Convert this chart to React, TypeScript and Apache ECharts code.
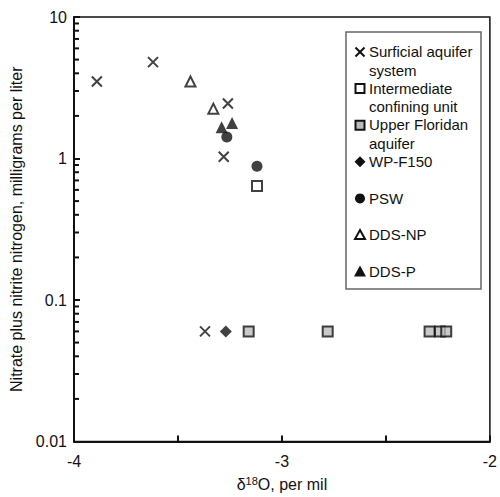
import React, { useEffect, useRef } from "react";
import * as echarts from "echarts";

const surficialX = [-3.89, -3.62, -3.26, -3.28, -3.37];
const surficialY = [3.5, 4.8, 2.45, 1.03, 0.06];
const intermediateX = [-3.12];
const intermediateY = [0.64];
const upperFloridanX = [-3.16, -2.78, -2.29, -2.24, -2.21];
const upperFloridanY = [0.06, 0.06, 0.06, 0.06, 0.06];
const wpX = [-3.27];
const wpY = [0.06];
const pswX = [-3.265, -3.12];
const pswY = [1.42, 0.88];
const ddsNpX = [-3.44, -3.33];
const ddsNpY = [3.5, 2.25];
const ddsPX = [-3.29, -3.24];
const ddsPY = [1.66, 1.78];
const minorTickValues = [0.02, 0.03, 0.04, 0.05, 0.06, 0.07, 0.08, 0.09, 0.2, 0.3, 0.4, 0.5, 0.6, 0.7, 0.8, 0.9, 2, 3, 4, 5, 6, 7, 8, 9];
const legendNames = ["Surficial aquifer\nsystem", "Intermediate\nconfining unit", "Upper Floridan\naquifer", "WP-F150", "PSW", "DDS-NP", "DDS-P"];

const FONT = "'Liberation Sans', Arial, Helvetica, sans-serif";
const pair = (xs: number[], ys: number[]) => xs.map((x, i) => [x, ys[i]]);
const CROSS = "path://M0,0L10,10M10,0L0,10";

export default function App() {
  const ref = useRef<HTMLDivElement>(null);
  useEffect(() => {
    const chart = echarts.init(ref.current!, undefined, { renderer: "svg" });
    const legendTop = 52;
    const legendStep = 36.6;
    const mx = 360;
    const legendGraphics: any[] = [
      { type: "rect", shape: { x: 346, y: 32, width: 135, height: 257 }, style: { fill: "#fff", stroke: "#666", lineWidth: 1.5 }, z: 10 },
    ];
    legendNames.forEach((name, i) => {
      const cy = legendTop + i * legendStep;
      legendGraphics.push({
        type: "text", x: 369, y: cy - 9.5, z: 11,
        style: { text: name, font: `15px ${FONT}`, fill: "#111", lineHeight: 18.5, verticalAlign: "top", align: "left" },
      });
      if (i === 0) {
        legendGraphics.push({ type: "line", shape: { x1: mx - 4.5, y1: cy - 4.5, x2: mx + 4.5, y2: cy + 4.5 }, style: { stroke: "#111", lineWidth: 2 }, z: 11 });
        legendGraphics.push({ type: "line", shape: { x1: mx + 4.5, y1: cy - 4.5, x2: mx - 4.5, y2: cy + 4.5 }, style: { stroke: "#111", lineWidth: 2 }, z: 11 });
      } else if (i === 1 || i === 2) {
        legendGraphics.push({ type: "rect", shape: { x: mx - 4.5, y: cy - 4.5, width: 9, height: 9 }, style: { fill: i === 1 ? "#fff" : "#bbb", stroke: "#111", lineWidth: 2 }, z: 11 });
      } else if (i === 3) {
        legendGraphics.push({ type: "polygon", shape: { points: [[mx, cy - 5.5], [mx + 5.5, cy], [mx, cy + 5.5], [mx - 5.5, cy]] }, style: { fill: "#111" }, z: 11 });
      } else if (i === 4) {
        legendGraphics.push({ type: "circle", shape: { cx: mx, cy, r: 5 }, style: { fill: "#111" }, z: 11 });
      } else if (i === 5) {
        legendGraphics.push({ type: "polygon", shape: { points: [[mx, cy - 5], [mx + 5, cy + 4], [mx - 5, cy + 4]] }, style: { fill: "#fff", stroke: "#111", lineWidth: 2 }, z: 11 });
      } else {
        legendGraphics.push({ type: "polygon", shape: { points: [[mx, cy - 6], [mx + 6, cy + 5], [mx - 6, cy + 5]] }, style: { fill: "#111" }, z: 11 });
      }
    });

    chart.setOption({
      animation: false,
      backgroundColor: "#fff",
      textStyle: { fontFamily: FONT },
      grid: { left: 74, right: 9, top: 17, bottom: 54, show: true, borderColor: "#111", borderWidth: 1.5, backgroundColor: "transparent" },
      xAxis: {
        type: "value", min: -4, max: -2, interval: 0.5,
        axisLine: { show: true, lineStyle: { color: "#111", width: 2 } },
        axisTick: { show: true, inside: true, length: 6, lineStyle: { color: "#111", width: 2 } },
        axisLabel: { color: "#111", fontSize: 16, margin: 12, formatter: (v: number) => (Number.isInteger(v) ? String(v) : "") },
        splitLine: { show: false },
        name: "{a|δ}{s|18}{a|O, per mil}",
        nameLocation: "middle", nameGap: 34,
        nameTextStyle: {
          rich: {
            a: { fontSize: 16, color: "#111", fontFamily: FONT },
            s: { fontSize: 11, color: "#111", fontFamily: FONT, verticalAlign: "top", padding: [0, 0, 6, 0] },
          },
        },
      },
      yAxis: {
        type: "log", logBase: 10, min: 0.01, max: 10,
        axisLine: { show: true, lineStyle: { color: "#111", width: 2 } },
        axisTick: { show: true, inside: true, length: 6, lineStyle: { color: "#111", width: 2 } },
        axisLabel: { color: "#111", fontSize: 16, margin: 7, formatter: (v: number) => String(v) },
        splitLine: { show: false },
        name: "Nitrate plus nitrite nitrogen, milligrams per liter",
        nameLocation: "middle", nameGap: 43,
        nameTextStyle: { fontSize: 16, color: "#111" },
      },
      graphic: legendGraphics,
      series: [
        {
          type: "custom", silent: true, z: 5, clip: false,
          dimensions: ["x", "y"],
          encode: { x: 0, y: 1 },
          data: minorTickValues.map((v) => [-4, v]),
          renderItem: (params: any, api: any) => {
            const p = api.coord([api.value(0), api.value(1)]);
            return { type: "line", shape: { x1: p[0], y1: p[1], x2: p[0] + 5, y2: p[1] }, style: { stroke: "#111", lineWidth: 2 } };
          },
        },
        { name: "Surficial aquifer system", type: "scatter", data: pair(surficialX, surficialY), symbol: CROSS, symbolSize: 10, itemStyle: { color: "none", borderColor: "#111", borderWidth: 2 } },
        { name: "Intermediate confining unit", type: "scatter", data: pair(intermediateX, intermediateY), symbol: "rect", symbolSize: 10, itemStyle: { color: "#fff", borderColor: "#111", borderWidth: 2 } },
        { name: "Upper Floridan aquifer", type: "scatter", data: pair(upperFloridanX, upperFloridanY), symbol: "rect", symbolSize: 10, itemStyle: { color: "#bbb", borderColor: "#111", borderWidth: 2 } },
        { name: "WP-F150", type: "scatter", data: pair(wpX, wpY), symbol: "diamond", symbolSize: 12, itemStyle: { color: "#111" } },
        { name: "PSW", type: "scatter", data: pair(pswX, pswY), symbol: "circle", symbolSize: 11, itemStyle: { color: "#111" } },
        { name: "DDS-NP", type: "scatter", data: pair(ddsNpX, ddsNpY), symbol: "triangle", symbolSize: 10, itemStyle: { color: "#fff", borderColor: "#111", borderWidth: 2 } },
        { name: "DDS-P", type: "scatter", data: pair(ddsPX, ddsPY), symbol: "triangle", symbolSize: 12, itemStyle: { color: "#111" } },
      ],
    });
    return () => chart.dispose();
  }, []);
  return <div ref={ref} style={{ width: 500, height: 497, position: "absolute", left: 0, top: 0 }} />;
}
